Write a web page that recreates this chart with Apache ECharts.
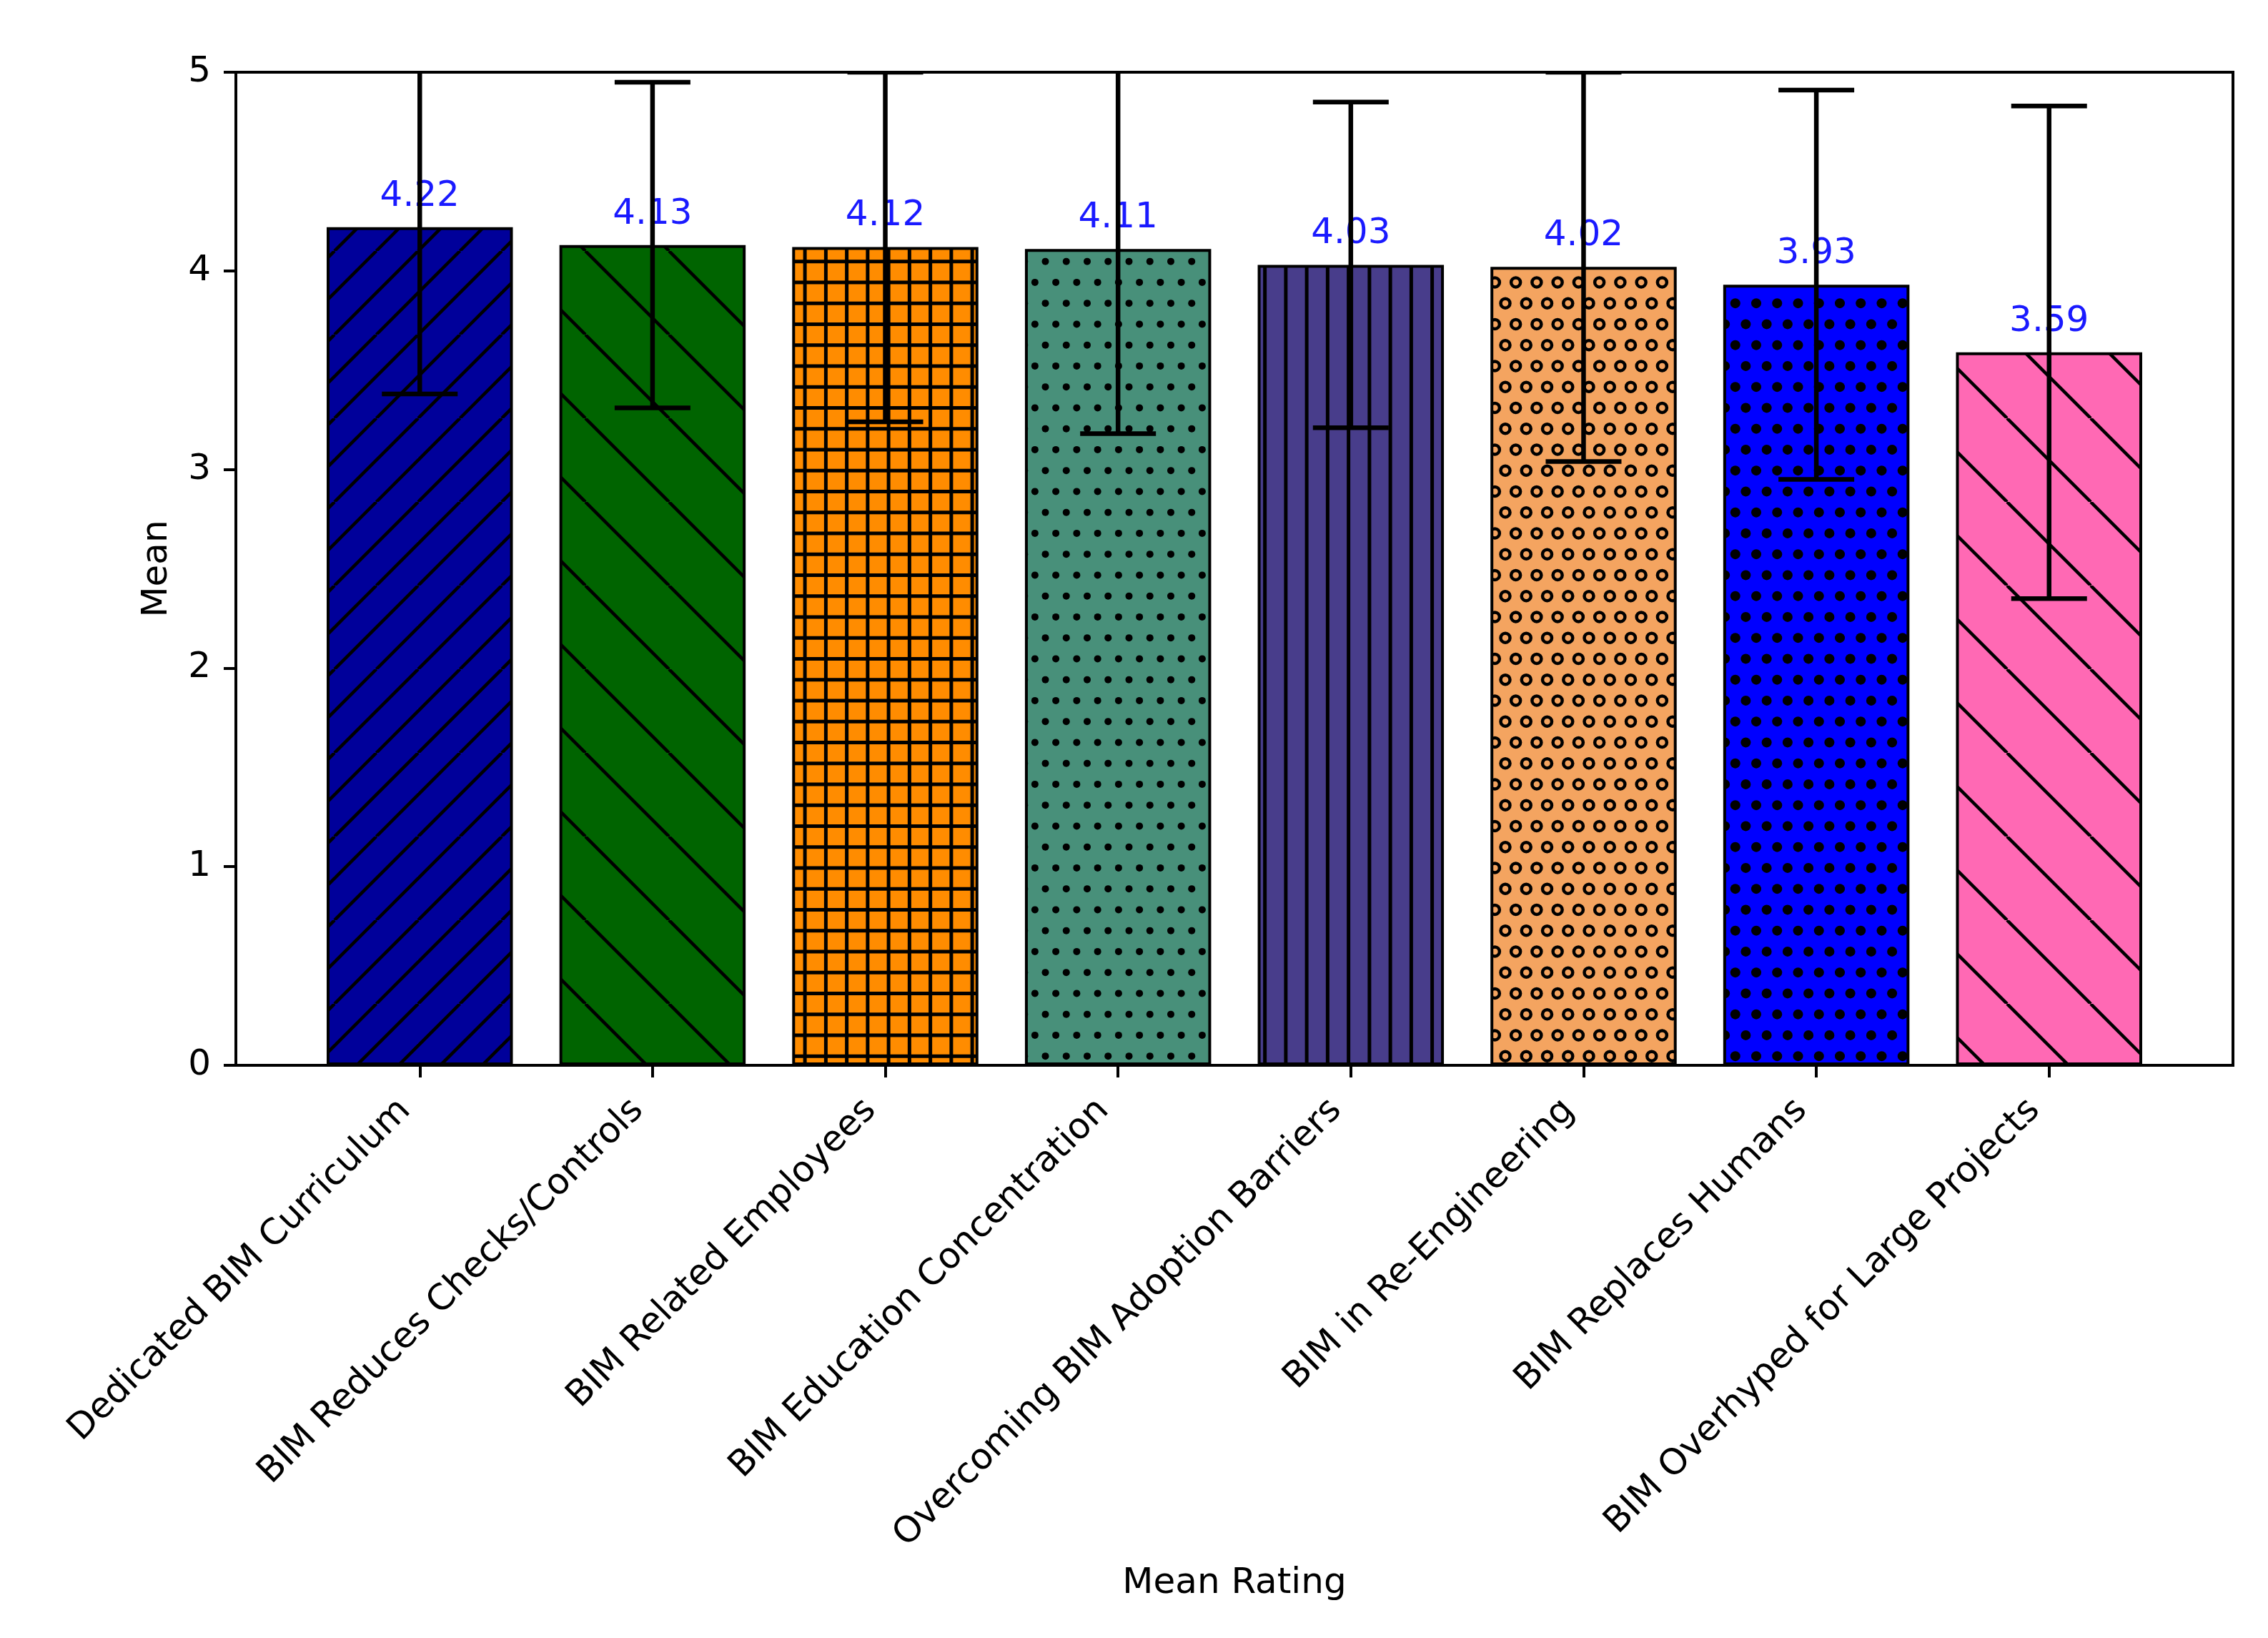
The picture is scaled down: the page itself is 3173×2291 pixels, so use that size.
<!DOCTYPE html>
<html><head><meta charset="utf-8">
<script src="https://cdn.jsdelivr.net/npm/echarts/dist/echarts.min.js"></script>
<style>html,body{margin:0;padding:0;background:#fff}#c{width:3173px;height:2291px}</style>
</head><body><div id="c"></div>
<script>
const categories = ['Dedicated BIM Curriculum', 'BIM Reduces Checks/Controls', 'BIM Related Employees', 'BIM Education Concentration', 'Overcoming BIM Adoption Barriers', 'BIM in Re-Engineering', 'BIM Replaces Humans', 'BIM Overhyped for Large Projects'];
const means = [4.22, 4.13, 4.12, 4.11, 4.03, 4.02, 3.93, 3.59];
const stdDevs = [0.84, 0.82, 0.88, 0.93, 0.82, 0.98, 0.98, 1.24];
const yTicks = [0, 1, 2, 3, 4, 5];
const barColors = ['#00009A', '#006400', '#FF8C00', '#48907A', '#483D8B', '#F4A460', '#0000FF', '#FF69B4'];
const hatches = ['//', '\\', '+', '.', '|', 'o', 'O', '\\'];

const FONT = 'DejaVu Sans';
const FS = 50;

function makeHatch(base, kind) {
  const T = 117;
  const c = document.createElement('canvas');
  c.width = T; c.height = T;
  const g = c.getContext('2d');
  g.fillStyle = base; g.fillRect(0, 0, T, T);
  g.strokeStyle = '#000'; g.fillStyle = '#000'; g.lineWidth = 4.5;
  const s = T / 4;
  if (kind === '//' || kind === '/') {
    const step = kind === '//' ? T / 2 : T;
    for (let cc = -step; cc <= 2 * T + step; cc += step) {
      g.beginPath(); g.moveTo(cc, 0); g.lineTo(cc - T, T); g.stroke();
    }
  } else if (kind === '\\') {
    const step = T;
    for (let d = -T - step; d <= T + step; d += step) {
      g.beginPath(); g.moveTo(d, 0); g.lineTo(d + T, T); g.stroke();
    }
  } else if (kind === '+' || kind === '|') {
    g.lineWidth = 5;
    for (let i = 0; i < 4; i++) {
      const p = i * s + s / 2;
      g.beginPath(); g.moveTo(p, 0); g.lineTo(p, T); g.stroke();
      if (kind === '+') { g.beginPath(); g.moveTo(0, p); g.lineTo(T, p); g.stroke(); }
    }
  } else {
    for (let j = 0; j < 4; j++) {
      const y = j * s + s / 2;
      for (let i = -1; i <= 4; i++) {
        const x = i * s + (j % 2 ? s / 2 : 0);
        g.beginPath();
        if (kind === '.') { g.arc(x, y, 5, 0, Math.PI * 2); g.fill(); }
        else if (kind === 'O') { g.arc(x, y, 7, 0, Math.PI * 2); g.fill(); }
        else { g.lineWidth = 4.5; g.arc(x, y, 6.5, 0, Math.PI * 2); g.stroke(); }
      }
    }
  }
  return c;
}

const chart = echarts.init(document.getElementById('c'), null, {renderer: 'canvas'});
const plotL = 330, plotT = 101, plotW = 2794, plotH = 1389;
const unit = plotW / 8.58;
const barGridL = plotL + 0.29 * unit;

const option = {
  backgroundColor: '#fff',
  animation: false,
  textStyle: {fontFamily: FONT},
  grid: [
    {left: plotL, top: plotT, width: plotW, height: plotH, show: true, borderColor: '#000', borderWidth: 4, backgroundColor: 'transparent'},
    {left: barGridL, top: plotT, width: 8 * unit, height: plotH}
  ],
  xAxis: [
    {type: 'value', gridIndex: 0, min: 0, max: 1, show: false},
    {type: 'category', gridIndex: 1, data: categories,
      axisLine: {show: false},
      axisTick: {show: true, alignWithLabel: true, length: 17, lineStyle: {color: '#000', width: 4}},
      axisLabel: {interval: 0, rotate: 45, margin: 35, fontSize: FS, color: '#000', fontFamily: FONT, padding: [0, 29, 0, 0]},
      name: 'Mean Rating', nameLocation: 'middle', nameGap: 700,
      nameTextStyle: {fontSize: FS, color: '#000', fontFamily: FONT}
    }
  ],
  yAxis: [
    {type: 'value', gridIndex: 0, min: yTicks[0], max: yTicks[yTicks.length - 1], interval: 1,
      axisLine: {show: true, lineStyle: {color: '#000', width: 4}},
      axisTick: {show: true, length: 17, lineStyle: {color: '#000', width: 4}},
      axisLabel: {margin: 35, fontSize: FS, color: '#000', fontFamily: FONT},
      splitLine: {show: false},
      name: 'Mean', nameLocation: 'middle', nameGap: 85, nameRotate: 90,
      nameTextStyle: {fontSize: FS, color: '#000', fontFamily: FONT}
    },
    {type: 'value', gridIndex: 1, min: 0, max: 5, show: false}
  ],
  series: [
    {
      type: 'bar', xAxisIndex: 1, yAxisIndex: 1, barWidth: '80%', z: 2,
      data: means.map((v, i) => ({
        value: v,
        itemStyle: {color: {image: makeHatch(barColors[i], hatches[i]), repeat: 'repeat'}, borderColor: '#000', borderWidth: 4}
      })),
      label: {show: true, position: 'top', distance: 18, color: '#1a1aff', fontSize: FS, fontFamily: FONT,
        formatter: p => p.value.toFixed(2)}
    },
    {
      type: 'custom', xAxisIndex: 1, yAxisIndex: 1, clip: true, z: 10,
      data: means.map((m, i) => [i, m, stdDevs[i]]),
      renderItem: function (params, api) {
        const x = api.value(0), m = api.value(1), sd = api.value(2);
        const hi = api.coord([x, m + sd]);
        const lo = api.coord([x, m - sd]);
        const cw = 53;
        const st = {stroke: '#000', lineWidth: 6.5};
        return {type: 'group', children: [
          {type: 'line', shape: {x1: hi[0], y1: hi[1], x2: lo[0], y2: lo[1]}, style: st},
          {type: 'line', shape: {x1: hi[0] - cw, y1: hi[1], x2: hi[0] + cw, y2: hi[1]}, style: st},
          {type: 'line', shape: {x1: lo[0] - cw, y1: lo[1], x2: lo[0] + cw, y2: lo[1]}, style: st}
        ]};
      }
    }
  ]
};
chart.setOption(option);
</script>
</body></html>
